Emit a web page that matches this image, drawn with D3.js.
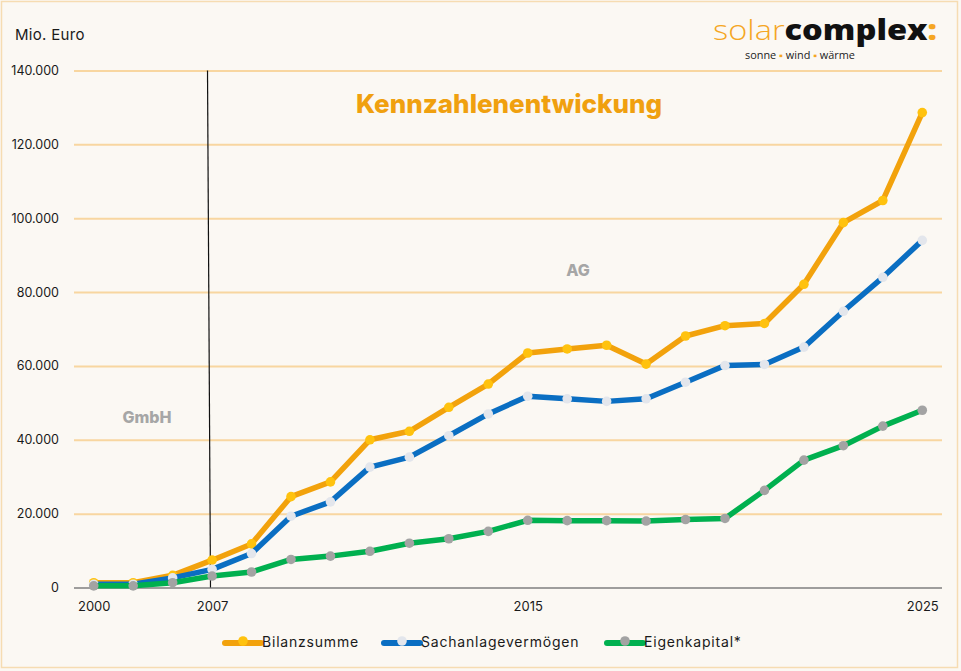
<!DOCTYPE html>
<html>
<head>
<meta charset="utf-8">
<script src="https://cdn.jsdelivr.net/npm/d3@7"></script>
<style>
  html, body { margin: 0; padding: 0; background: #fbf8f3; }
  svg { display: block; font-family: Inter, "Open Sans", sans-serif; }
</style>
</head>
<body>
<svg id="chart" width="961" height="671"></svg>
<script>
// ---- data ----
const categories = ["2000","2003","2005","2007","2008","2009","2010","2011","2012","2013","2014","2015",
                    "2016","2017","2018","2019","2020","2021","2022","2023","2024","2025"];
const xTickLabels = ["2000","2007","2015","2025"];
const yTickValues = [0, 20000, 40000, 60000, 80000, 100000, 120000, 140000];
const bilanzsumme = [1300, 1300, 3300, 7400, 11800, 24600, 28600, 40000, 42300, 48800, 55100, 63500,
                     64600, 65600, 60500, 68100, 70900, 71500, 82100, 98800, 104800, 128600];
const sachanlage = [900, 900, 2600, 4900, 9200, 19300, 23200, 32600, 35300, 41100, 47000, 51800,
                    51100, 50400, 51100, 55600, 60100, 60400, 65100, 74800, 84000, 94000];
const eigenkapital = [450, 450, 1300, 3100, 4200, 7600, 8500, 9800, 12000, 13200, 15200, 18200,
                      18100, 18100, 18000, 18400, 18700, 26300, 34500, 38400, 43700, 48000];
const seriesNames = ["Bilanzsumme", "Sachanlagevermögen", "Eigenkapital*"];

// ---- setup ----
const svg = d3.select("#chart");
const plot = { left: 74, right: 942, top: 70.5, bottom: 587.5 };

svg.append("rect").attr("x", 1.5).attr("y", 1.5).attr("width", 956).attr("height", 666)
  .attr("fill", "#fbf8f3").attr("stroke", "#f6dcb2").attr("stroke-width", 1.5);

const x = d3.scalePoint().domain(categories).range([plot.left, plot.right]).padding(0.5);
const y = d3.scaleLinear().domain([0, 140000]).range([plot.bottom, plot.top]);

const de = d3.formatLocale({ decimal: ",", thousands: ".", grouping: [3], currency: ["", " €"] });
const fmt = de.format(",");

// gridlines + y labels
const yAxis = d3.axisLeft(y).tickValues(yTickValues).tickFormat(fmt)
  .tickSize(-(plot.right - plot.left)).tickPadding(15);
const gy = svg.append("g").attr("transform", `translate(${plot.left},0)`).call(yAxis);
gy.select(".domain").remove();
gy.selectAll(".tick line").attr("stroke", "#f8d6a0").attr("stroke-width", 2)
  .filter(d => d === 0).attr("stroke", "#7f7f7f").attr("stroke-width", 1.3);
gy.selectAll(".tick text").attr("fill", "#1a1a1a").attr("font-size", 12.5)
  .attr("font-family", "Inter, sans-serif").attr("x", -15);

// x axis labels
const xAxis = d3.axisBottom(x).tickValues(xTickLabels).tickSize(0).tickPadding(14);
const gx = svg.append("g").attr("transform", `translate(0,${plot.bottom})`).call(xAxis);
gx.select(".domain").remove();
gx.selectAll(".tick text").attr("fill", "#1a1a1a").attr("font-size", 13)
  .attr("font-family", "Inter, sans-serif");

// vertical separator GmbH / AG
svg.append("line").attr("x1", 207.5).attr("y1", plot.top).attr("x2", 210.5).attr("y2", plot.bottom)
  .attr("stroke", "#111").attr("stroke-width", 1.2);

// texts
svg.append("text").attr("x", 15).attr("y", 40).attr("font-size", 15).attr("fill", "#1a1a1a")
  .attr("letter-spacing", 0.3).text("Mio. Euro");
svg.append("text").attr("x", 509).attr("y", 113).attr("text-anchor", "middle")
  .attr("font-size", 26).attr("font-weight", 800).attr("fill", "#f0a00f")
  .text("Kennzahlenentwickung");
svg.append("text").attr("x", 578).attr("y", 276).attr("text-anchor", "middle")
  .attr("font-size", 16).attr("font-weight", 800).attr("fill", "#a6a6a6").text("AG");
svg.append("text").attr("x", 147).attr("y", 423).attr("text-anchor", "middle")
  .attr("font-size", 16).attr("font-weight", 800).attr("fill", "#a6a6a6").text("GmbH");

// logo
const logo = svg.append("text").attr("x", 713).attr("y", 39.5).attr("font-size", 28)
  .attr("font-family", "'Open Sans', sans-serif")
  .attr("textLength", 224).attr("lengthAdjust", "spacingAndGlyphs");
logo.append("tspan").attr("fill", "#f5a623").attr("font-weight", 300).text("solar");
logo.append("tspan").attr("fill", "#111").attr("font-weight", 800).text("complex");
logo.append("tspan").attr("fill", "#f5a623").attr("font-weight", 800).text(":");
const sub = svg.append("text").attr("x", 745).attr("y", 58.5).attr("font-size", 10)
  .attr("font-family", "'Open Sans', sans-serif").attr("fill", "#222")
  .attr("textLength", 110).attr("lengthAdjust", "spacingAndGlyphs");
sub.append("tspan").text("sonne ");
sub.append("tspan").attr("fill", "#f5a623").text("▪");
sub.append("tspan").text(" wind ");
sub.append("tspan").attr("fill", "#f5a623").text("▪");
sub.append("tspan").text(" wärme");

// series
const series = [
  { name: seriesNames[0], values: bilanzsumme, line: "#f2a20c", marker: "#ffc20e" },
  { name: seriesNames[1], values: sachanlage, line: "#0a6ec2", marker: "#e3e6ec" },
  { name: seriesNames[2], values: eigenkapital, line: "#00b04f", marker: "#a3a3a3" }
];
const line = d3.line().x((d, i) => x(categories[i])).y(d => y(d));
series.forEach(s => {
  svg.append("path").datum(s.values).attr("d", line).attr("fill", "none")
    .attr("stroke", s.line).attr("stroke-width", 5.5).attr("stroke-linejoin", "round")
    .attr("stroke-linecap", "round");
  svg.append("g").selectAll("circle").data(s.values).join("circle")
    .attr("cx", (d, i) => x(categories[i])).attr("cy", d => y(d)).attr("r", 4.8)
    .attr("fill", s.marker);
});

// legend
const legendX = [225, 384, 607];
series.forEach((s, i) => {
  const g = svg.append("g").attr("transform", `translate(${legendX[i]},642)`);
  g.append("line").attr("x1", 0).attr("x2", 36).attr("y1", 1).attr("y2", 1)
    .attr("stroke", s.line).attr("stroke-width", 6).attr("stroke-linecap", "round");
  g.append("circle").attr("cx", 18).attr("cy", -1).attr("r", 4.8).attr("fill", s.marker);
  g.append("text").attr("x", 37).attr("y", 5).attr("font-size", 14).attr("fill", "#1a1a1a")
    .attr("letter-spacing", 0.8).text(s.name);
});
</script>
</body>
</html>
